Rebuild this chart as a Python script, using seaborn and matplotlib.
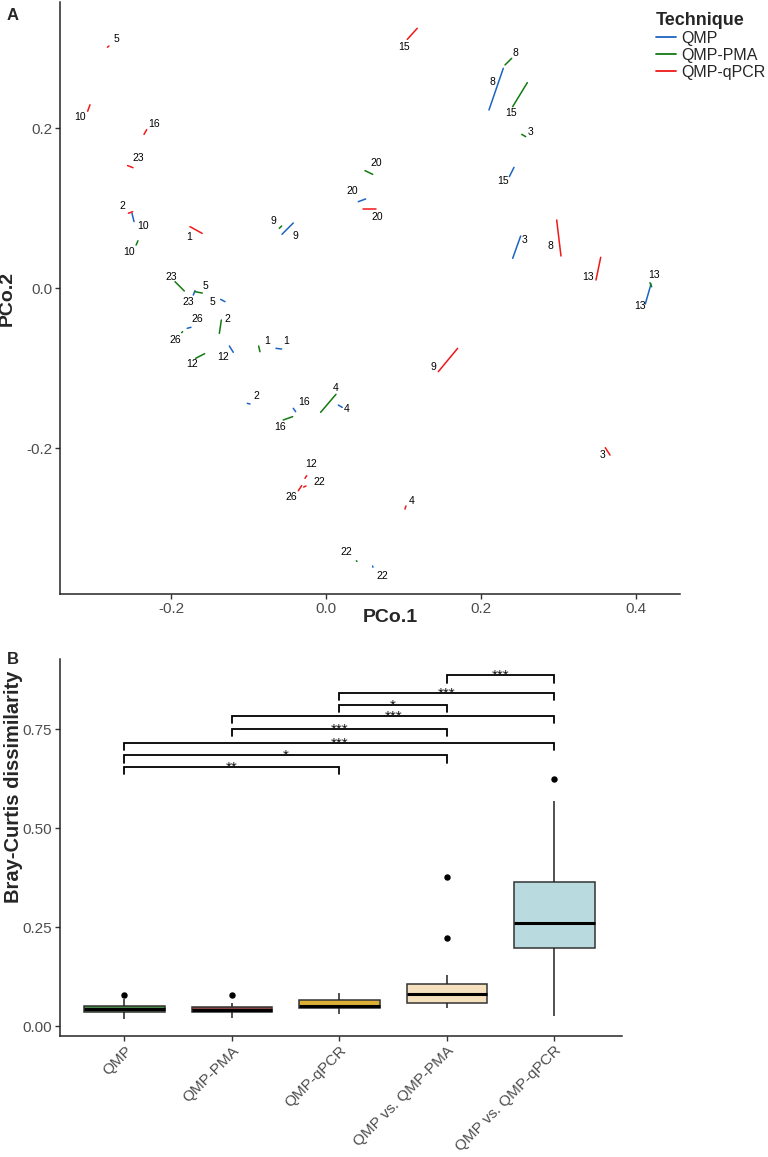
import numpy as np
import pandas as pd
import matplotlib
matplotlib.use("Agg")
import matplotlib.pyplot as plt
import seaborn as sns

# ---------------- Panel A data (PCoA, replicate pairs joined) ----------------
techniques = ["QMP", "QMP-PMA", "QMP-qPCR"]
tech_colors = ["#1c64c4", "#117a11", "#f01818"]

# QMP-qPCR (red)
red_sample = [5, 10, 16, 23, 2, 1, 12, 22, 26, 9, 4, 3, 15, 20, 8, 13]
red_x0 = [-0.282, -0.3075, -0.2348, -0.256, -0.255, -0.1755, -0.0271, -0.0288, -0.0357, 0.1449, 0.1019, 0.3604, 0.1049, 0.0482, 0.2977, 0.3484]
red_y0 = [0.301, 0.221, 0.192, 0.153, 0.0934, 0.0767, -0.2379, -0.2488, -0.2534, -0.1046, -0.2763, -0.1996, 0.3108, 0.0988, 0.085, 0.010]
red_x1 = [-0.280, -0.3045, -0.2313, -0.249, -0.2494, -0.1598, -0.0249, -0.0258, -0.0314, 0.1699, 0.1032, 0.3665, 0.1178, 0.0641, 0.3032, 0.3545]
red_y1 = [0.3025, 0.229, 0.198, 0.1504, 0.0954, 0.0683, -0.2346, -0.2475, -0.2471, -0.0754, -0.2725, -0.2088, 0.3246, 0.0988, 0.040, 0.0384]
red_lx = [-0.271, -0.3174, -0.2219, -0.2426, -0.2632, -0.1768, -0.0194, -0.0086, -0.0443, 0.1385, 0.111, 0.3565, 0.1006, 0.0667, 0.2899, 0.3377]
red_ly = [0.311, 0.214, 0.205, 0.1625, 0.1029, 0.0641, -0.2204, -0.2421, -0.2609, -0.0991, -0.2663, -0.2088, 0.3016, 0.0884, 0.0525, 0.0134]

# QMP-PMA (green)
grn_sample = [10, 9, 23, 5, 26, 2, 12, 1, 16, 4, 22, 13, 8, 15, 3, 20]
grn_x0 = [-0.245, -0.0602, -0.1948, -0.169, -0.1862, -0.1376, -0.1682, -0.0869, -0.0551, -0.0069, 0.0392, 0.418, 0.231, 0.2409, 0.2525, 0.0503]
grn_y0 = [0.0537, 0.0746, 0.0079, -0.0046, -0.0558, -0.0567, -0.0879, -0.0725, -0.165, -0.1554, -0.341, 0.0066, 0.2788, 0.2267, 0.1921, 0.1467]
grn_x1 = [-0.2426, -0.0572, -0.1828, -0.1596, -0.185, -0.135, -0.1565, -0.0852, -0.043, 0.0129, 0.0400, 0.4203, 0.2396, 0.2598, 0.2577, 0.0603]
grn_y1 = [0.059, 0.0775, -0.0037, -0.0063, -0.0546, -0.040, -0.0821, -0.0796, -0.1608, -0.1329, -0.3418, 0.0016, 0.2871, 0.2567, 0.1892, 0.1421]
grn_lx = [-0.2538, -0.068, -0.200, -0.1561, -0.1948, -0.1268, -0.1733, -0.0757, -0.0594, 0.012, 0.0267, 0.4236, 0.2448, 0.2387, 0.2641, 0.0654]
grn_ly = [0.0446, 0.0841, 0.0134, 0.0029, -0.065, -0.0388, -0.0954, -0.0663, -0.1734, -0.1254, -0.3304, 0.01625, 0.2934, 0.2184, 0.1954, 0.1559]

# QMP (blue)
blu_sample = [10, 9, 23, 5, 26, 12, 1, 2, 16, 4, 22, 13, 8, 15, 3, 20]
blu_x0 = [-0.2503, -0.0568, -0.1712, -0.1359, -0.179, -0.1247, -0.0645, -0.1015, -0.0422, 0.0159, 0.0602, 0.412, 0.2103, 0.2366, 0.2409, 0.0417]
blu_y0 = [0.0934, 0.0671, -0.0088, -0.0142, -0.0504, -0.0725, -0.0754, -0.1442, -0.1504, -0.1463, -0.3475, -0.020, 0.2225, 0.1392, 0.0371, 0.1079]
blu_x1 = [-0.2477, -0.0422, -0.169, -0.1303, -0.1742, -0.1196, -0.0572, -0.098, -0.0391, 0.021, 0.0606, 0.4194, 0.2288, 0.2426, 0.2512, 0.0512]
blu_y1 = [0.083, 0.0813, -0.0033, -0.0171, -0.0491, -0.0804, -0.0763, -0.145, -0.1546, -0.1492, -0.349, 0.005, 0.2746, 0.1508, 0.065, 0.1113]
blu_lx = [-0.2365, -0.040, -0.1777, -0.1462, -0.1655, -0.1325, -0.0516, -0.0903, -0.028, 0.0267, 0.0726, 0.4052, 0.2146, 0.2288, 0.2568, 0.0345]
blu_ly = [0.0775, 0.0654, -0.0171, -0.0179, -0.0391, -0.0866, -0.0663, -0.1346, -0.1421, -0.1513, -0.3596, -0.0221, 0.2579, 0.1338, 0.060, 0.1213]

xticksA = [-0.2, 0.0, 0.2, 0.4]
yticksA = [-0.2, 0.0, 0.2]

# ---------------- Panel B data (Bray-Curtis boxplots) ----------------
groups = ["QMP", "QMP-PMA", "QMP-qPCR", "QMP vs. QMP-PMA", "QMP vs. QMP-qPCR"]
box_colors = ["#3a9c40", "#9c3f36", "#f7bd1c", "#fee3b4", "#b3e0e6"]
whis_lo = [0.019, 0.022, 0.030, 0.045, 0.026]
q1 = [0.037, 0.035, 0.045, 0.060, 0.198]
med = [0.044, 0.040, 0.050, 0.081, 0.260]
q3 = [0.052, 0.048, 0.066, 0.106, 0.364]
whis_hi = [0.070, 0.060, 0.085, 0.129, 0.569]
outliers = [[0.079], [0.079], [], [0.222, 0.377], [0.624]]

brk_i = [3, 2, 2, 1, 1, 0, 0, 0]
brk_j = [4, 4, 3, 4, 3, 4, 3, 2]
brk_y = [0.886, 0.841, 0.811, 0.783, 0.750, 0.715, 0.684, 0.654]
brk_lab = ["***", "***", "*", "***", "***", "***", "*", "**"]
yticksB = [0.00, 0.25, 0.50, 0.75]

# ---------------- style ----------------
sns.set_style("ticks")
plt.rcParams["font.family"] = ["Liberation Sans", "DejaVu Sans"]
plt.rcParams["axes.linewidth"] = 1.1
TICKC = "#4d4d4d"

fig = plt.figure(figsize=(7.68, 11.57), dpi=100)
W, H = 768.0, 1157.0
axA = fig.add_axes([60 / W, 1 - 594 / H, 620 / W, 592 / H])
axB = fig.add_axes([60 / W, 1 - 1036 / H, 562 / W, 377 / H])

# ---------------- Panel A ----------------
rows = []
labels = []
sets = [("QMP-qPCR", red_sample, red_x0, red_y0, red_x1, red_y1, red_lx, red_ly),
        ("QMP-PMA", grn_sample, grn_x0, grn_y0, grn_x1, grn_y1, grn_lx, grn_ly),
        ("QMP", blu_sample, blu_x0, blu_y0, blu_x1, blu_y1, blu_lx, blu_ly)]
for tech, s, x0, y0, x1, y1, lx, ly in sets:
    for k in range(len(s)):
        uid = f"{tech}_{s[k]}"
        rows.append(dict(id=uid, Technique=tech, x=x0[k], y=y0[k], ord=0))
        rows.append(dict(id=uid, Technique=tech, x=x1[k], y=y1[k], ord=1))
        labels.append((lx[k], ly[k], str(s[k])))
dfA = pd.DataFrame(rows)

sns.lineplot(data=dfA, x="x", y="y", hue="Technique", hue_order=techniques,
             palette=dict(zip(techniques, tech_colors)), units="id",
             estimator=None, sort=False, linewidth=1.1, ax=axA)
for lx, ly, t in labels:
    axA.text(lx, ly, t, ha="center", va="center", fontsize=7.5, color="black")

axA.set_xlim(-0.3432, 0.4568)
axA.set_ylim(-0.3825, 0.3575)
axA.set_xticks(xticksA)
axA.set_xticklabels([f"{v:.1f}" for v in xticksA])
axA.set_yticks(yticksA)
axA.set_yticklabels([f"{v:.1f}" for v in yticksA])
sns.despine(ax=axA)
axA.tick_params(axis="both", labelsize=11, labelcolor=TICKC, color="#333333",
                length=3.5, width=1.0, direction="out", pad=2)
axA.set_xlabel("PCo.1", fontsize=14, fontweight="bold")
axA.set_ylabel("PCo.2", fontsize=14, fontweight="bold")
axA.xaxis.set_label_coords(0.532, -0.026)
axA.yaxis.set_label_coords(-0.071, 0.5)

handles, labs = axA.get_legend_handles_labels()
axA.get_legend().remove()
leg = fig.legend(handles, labs, title="Technique", loc="upper left",
                 bbox_to_anchor=(656 / W, 1 - 12 / H), frameon=False,
                 handlelength=1.25, handletextpad=0.35, labelspacing=0.12,
                 borderpad=0, borderaxespad=0, fontsize=11.5,
                 title_fontproperties={"weight": "bold", "size": 13},
                 alignment="left")
for h in leg.legend_handles:
    h.set_linewidth(1.3)

# ---------------- Panel B ----------------
rowsB = []
for g, lo, a, m, b, hi, outs in zip(groups, whis_lo, q1, med, q3, whis_hi, outliers):
    vals = [lo, a, a, a, m, m, m, b, b, b, hi] + list(outs)
    for v in vals:
        rowsB.append(dict(group=g, value=v))
dfB = pd.DataFrame(rowsB)

sns.boxplot(data=dfB, x="group", y="value", hue="group", order=groups,
            hue_order=groups, palette=dict(zip(groups, box_colors)),
            width=0.75, linecolor="#333333", linewidth=1.1, legend=False,
            showcaps=False, whis=1.5,
            medianprops=dict(color="black", linewidth=2.2),
            whiskerprops=dict(color="#222222", linewidth=1.1),
            flierprops=dict(marker="o", markerfacecolor="black",
                            markeredgecolor="black", markersize=3.6),
            ax=axB)

tick_h = 0.018
for i, j, y, lab in zip(brk_i, brk_j, brk_y, brk_lab):
    axB.plot([i, i, j, j], [y - tick_h, y, y, y - tick_h], color="black",
             linewidth=1.3, solid_joinstyle="miter")
    axB.text((i + j) / 2, y - 0.012, lab, ha="center", va="baseline",
             fontsize=11, color="#111111")

axB.set_xlim(-0.6, 4.63)
axB.set_ylim(-0.0245, 0.9275)
axB.set_yticks(yticksB)
axB.set_yticklabels([f"{v:.2f}" for v in yticksB])
sns.despine(ax=axB)
axB.tick_params(axis="both", labelsize=11, labelcolor=TICKC, color="#333333",
                length=3.5, width=1.0, direction="out", pad=2)
axB.set_xticks(range(len(groups)))
axB.set_xticklabels(groups, rotation=45, ha="right", rotation_mode="anchor")
axB.set_xlabel("")
axB.set_ylabel("Bray-Curtis dissimilarity", fontsize=14.5, fontweight="bold")
axB.yaxis.set_label_coords(-0.066, 0.66)

fig.text(13 / W, 1 - 16 / H, "A", fontsize=12, fontweight="bold", ha="center", va="center")
fig.text(13 / W, 1 - 660 / H, "B", fontsize=12, fontweight="bold", ha="center", va="center")

fig.savefig("out.png", dpi=100)
